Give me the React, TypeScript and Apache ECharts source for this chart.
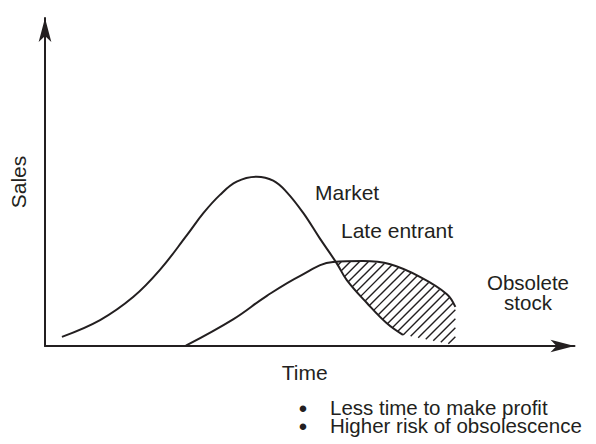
import React, { useEffect, useRef } from "react";
import * as echarts from "echarts";

// Time (x) and Sales (y) in arbitrary units
const marketCurve: number[][] = [
  [3.2, 2.8], [10.4, 7.9], [16.7, 15.0], [21.7, 23.2], [26.8, 33.8], [29.9, 40.5],
  [33.0, 46.0], [36.2, 50.1], [40.0, 51.6], [43.1, 50.4], [45.6, 47.0], [48.8, 40.5],
  [51.9, 32.8], [55.1, 25.2], [57.0, 20.1], [60.8, 13.1], [64.5, 7.0], [67.6, 3.4],
];
const lateEntrantCurve: number[][] = [
  [26.6, 0.1], [35.6, 8.2], [41.9, 15.3], [48.2, 21.4], [54.4, 25.6], [60.1, 25.9],
  [65.2, 24.9], [70.9, 21.0], [75.9, 15.8], [77.5, 11.9],
];
// where the two curves cross, and where the obsolete stock ends on the time axis
const crossTime = 54.4;
const obsoleteEnd: number[] = [77.5, 0.3];

const labels = {
  xName: "Time",
  yName: "Sales",
  market: "Market",
  late: "Late entrant",
  obsolete: ["Obsolete", "stock"],
  bullets: ["Less time to make profit", "Higher risk of obsolescence"],
};

const INK = "#231f20";
const FONT = "'Liberation Sans', Arial, Helvetica, sans-serif";

export default function App() {
  const ref = useRef<HTMLDivElement>(null);
  useEffect(() => {
    if (!ref.current) return;
    const chart = echarts.init(ref.current, null, { renderer: "svg" });

    const boundary: number[][] = [
      ...lateEntrantCurve.filter((p) => p[0] >= crossTime),
      obsoleteEnd,
      ...marketCurve.filter((p) => p[0] > crossTime).reverse(),
    ];

    const axisCommon = {
      type: "value" as const,
      min: 0,
      max: 100,
      splitLine: { show: false },
      axisTick: { show: false },
      axisLabel: { show: false },
      axisLine: {
        show: true,
        symbol: ["none", "arrow"],
        symbolSize: [9.5, 24],
        lineStyle: { color: INK, width: 2 },
      },
    };

    const txt = (text: string, x: number, y: number, size: number, align = "left", lh = size) => ({
      type: "text",
      x,
      y,
      style: { text, fontSize: size, lineHeight: lh, fill: INK, fontFamily: FONT, align, verticalAlign: "middle" },
    });

    chart.setOption({
      animation: false,
      grid: { left: 45, right: 21.5, top: 18, bottom: 98 },
      xAxis: {
        ...axisCommon,
        name: labels.xName,
        nameLocation: "middle",
        nameGap: 16,
        nameTextStyle: { fontSize: 21, color: INK, fontFamily: FONT, padding: [0, 10, 0, 0] },
      },
      yAxis: {
        ...axisCommon,
        name: labels.yName,
        nameLocation: "middle",
        nameRotate: 90,
        nameGap: 16,
        nameTextStyle: { fontSize: 21, color: INK, fontFamily: FONT },
      },
      series: [
        {
          type: "custom",
          name: "Obsolete stock",
          coordinateSystem: "cartesian2d",
          data: [[0, 0]],
          silent: true,
          renderItem: (_params: any, api: any) => {
            const pts = boundary.map((p) => api.coord(p));
            const n = pts.length;
            const cs = pts.map((p: number[]) => p[0] + p[1]);
            const cmin = Math.min(...cs);
            const cmax = Math.max(...cs);
            const step = 9;
            const children: any[] = [];
            for (let c = Math.ceil(cmin / step) * step; c < cmax; c += step) {
              const hits: number[][] = [];
              for (let i = 0; i < n; i++) {
                const a = pts[i];
                const b = pts[(i + 1) % n];
                const fa = a[0] + a[1] - c;
                const fb = b[0] + b[1] - c;
                if (fa < 0 !== fb < 0) {
                  const t = fa / (fa - fb);
                  hits.push([a[0] + t * (b[0] - a[0]), a[1] + t * (b[1] - a[1])]);
                }
              }
              hits.sort((p, q) => p[0] - q[0]);
              for (let k = 0; k + 1 < hits.length; k += 2) {
                children.push({
                  type: "line",
                  shape: { x1: hits[k][0], y1: hits[k][1], x2: hits[k + 1][0], y2: hits[k + 1][1] },
                  style: { stroke: INK, lineWidth: 1.4 },
                });
              }
            }
            return { type: "group", children };
          },
        },
        {
          type: "line",
          name: "Market",
          data: marketCurve,
          smooth: 0.4,
          showSymbol: false,
          lineStyle: { color: INK, width: 2 },
        },
        {
          type: "line",
          name: "Late entrant",
          data: lateEntrantCurve,
          smooth: 0.4,
          showSymbol: false,
          lineStyle: { color: INK, width: 2 },
        },
      ],
      graphic: [
        txt(labels.market, 315, 192, 21),
        txt(labels.late, 341, 230.5, 21),
        txt(labels.obsolete[0], 528, 282.5, 20.5, "center", 18),
        txt(labels.obsolete[1], 528, 302.8, 20.5, "center", 18),
        ...labels.bullets.flatMap((b, i) => [
          txt("•", 303, 408 + i * 18.6, 24, "center", 16),
          txt(b, 330, 407.2 + i * 18.6, 20.5, "left", 18),
        ]),
      ],
    });
    return () => chart.dispose();
  }, []);
  return <div ref={ref} style={{ width: 596, height: 444, position: "absolute", left: 0, top: 0 }} />;
}
